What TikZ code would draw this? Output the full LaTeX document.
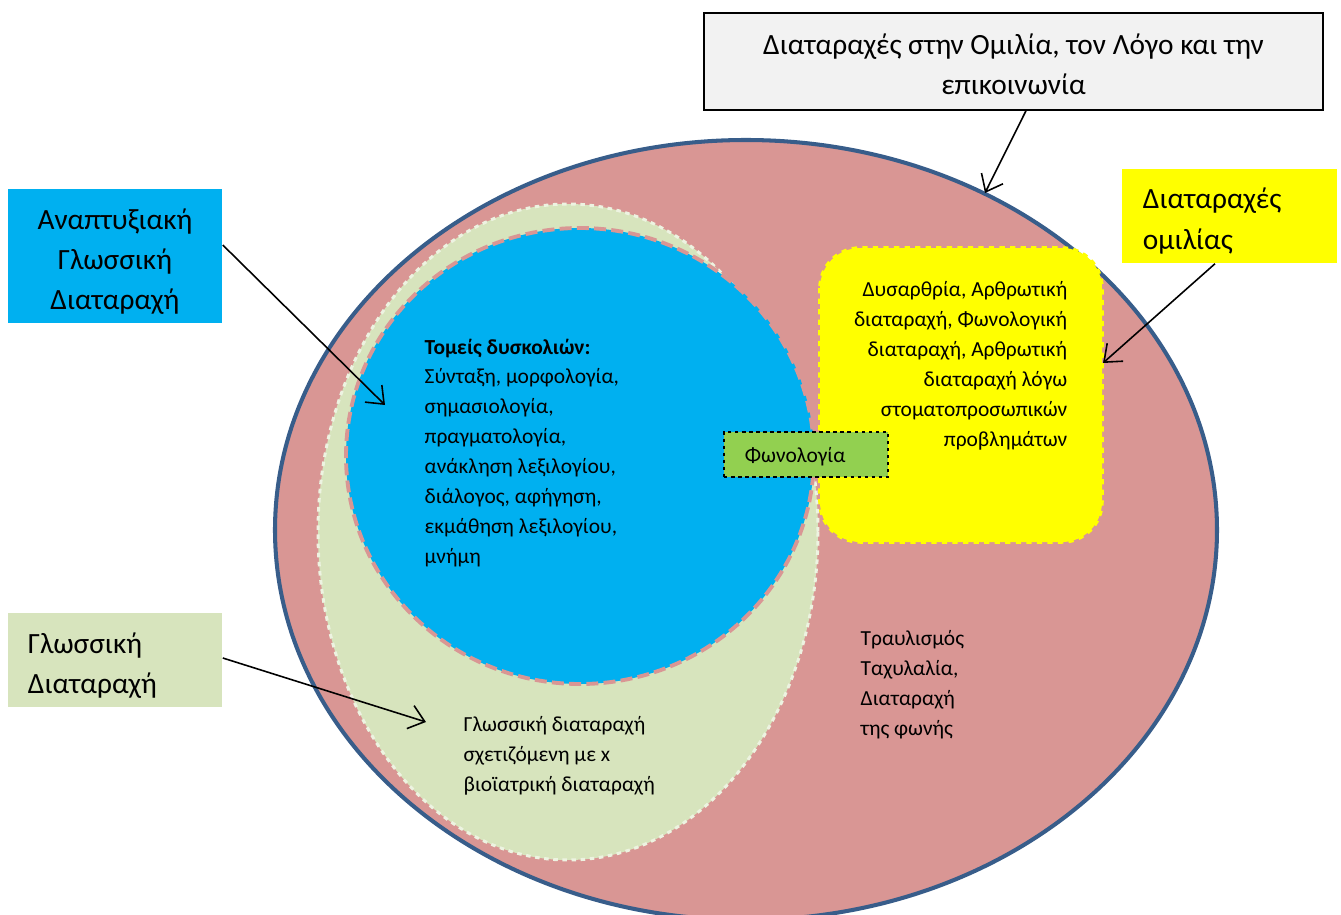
\documentclass[tikz,border=0pt]{standalone}
\usepackage{fontspec}
\setmainfont{Carlito}
\usetikzlibrary{arrows.meta,positioning}
\definecolor{outerpink}{HTML}{D99694}
\definecolor{outerblue}{HTML}{385D8A}
\definecolor{langgreen}{HTML}{D7E4BD}
\definecolor{devblue}{HTML}{00B0F0}
\definecolor{phongreen}{HTML}{92D050}
\definecolor{boxgrey}{HTML}{F2F2F2}
\definecolor{speechyellow}{HTML}{FFFF00}

\begin{document}
\begin{tikzpicture}[x=0.01cm,y=-0.01cm,>={Straight Barb[length=1.5mm,width=2.4mm]},
  biglbl/.style={inner sep=0pt, font=\fontsize{8.35}{11.4}\selectfont},
  smalltxt/.style={inner sep=0pt, font=\fontsize{6.1}{8.5}\selectfont},
  conn/.style={->, line width=0.45pt}]
  \useasboundingbox (0,0) rectangle (1341,915);
  \clip (0,0) rectangle (1341,915);

  % nested regions
  \draw[outerblue, line width=1.15pt, fill=outerpink] (746,530) ellipse [x radius=471, y radius=390];
  \draw[draw=white!55!langgreen, fill=langgreen, line width=0.85pt, dash pattern=on 1.3pt off 1.3pt]
    (568,532) ellipse [x radius=250, y radius=328];
  \draw[draw=outerpink, fill=devblue, line width=1.1pt, dash pattern=on 3.4pt off 1.5pt]
    (580,456) ellipse [x radius=234, y radius=228];
  \draw[draw=speechyellow, fill=speechyellow, line width=1pt, dash pattern=on 1.5pt off 1.5pt, rounded corners=0.4cm]
    (820,248) rectangle (1102,542);

  % texts inside the regions
  \node[smalltxt, anchor=north west, align=left] (devtxt) at (424,338)
    {\textbf{Τομείς δυσκολιών:}\\Σύνταξη, μορφολογία,\\σημασιολογία,\\πραγματολογία,\\ανάκληση λεξιλογίου,\\διάλογος, αφήγηση,\\εκμάθηση λεξιλογίου,\\μνήμη};
  \node[smalltxt, anchor=north east, align=right] (speechtxt) at (1068,281)
    {Δυσαρθρία, Αρθρωτική\\διαταραχή, Φωνολογική\\διαταραχή, Αρθρωτική\\διαταραχή λόγω\\στοματοπροσωπικών\\προβλημάτων};
  \node[smalltxt, anchor=north west, align=left] (langtxt) at (463,716)
    {Γλωσσική διαταραχή\\σχετιζόμενη με x\\βιοϊατρική διαταραχή};
  \node[smalltxt, anchor=north west, align=left] (fluencytxt) at (860,630)
    {Τραυλισμός\\Ταχυλαλία,\\Διαταραχή\\της φωνής};
  \node[draw=black, fill=phongreen, dash pattern=on 1pt off 1pt, line width=0.4pt,
    minimum width=1.64cm, minimum height=0.45cm] (phon) at (806,454.5) {};
  \node[smalltxt, anchor=west] (phontxt) at ([xshift=0.21cm,yshift=-0.02cm]phon.west) {Φωνολογία};

  % outside labels
  \node[draw=black, line width=0.4pt, fill=boxgrey, minimum width=6.19cm, minimum height=0.97cm]
    (toplbl) at (1013.5,61.5) {};
  \node[biglbl, align=center] (toptxt) at ([yshift=-0.025cm]toplbl) {Διαταραχές στην Ομιλία, τον Λόγο και την\\επικοινωνία};
  \node[fill=devblue, minimum width=2.14cm, minimum height=1.34cm] (devlbl) at (115,256) {};
  \node[biglbl, align=center] (devlbltxt) at ([yshift=-0.055cm]devlbl) {Αναπτυξιακή\\Γλωσσική\\Διαταραχή};
  \node[fill=speechyellow, minimum width=2.15cm, minimum height=0.94cm] (speechlbl) at (1229.5,216) {};
  \node[biglbl, align=left, anchor=west] (speechlbltxt) at ([xshift=0.21cm,yshift=-0.05cm]speechlbl.west) {Διαταραχές\\ομιλίας};
  \node[fill=langgreen, minimum width=2.14cm, minimum height=0.94cm] (langlbl) at (115,660) {};
  \node[biglbl, align=left, anchor=west] (langlbltxt) at ([xshift=0.2cm,yshift=-0.055cm]langlbl.west) {Γλωσσική\\Διαταραχή};

  % arrow ends
  \coordinate (topend) at (985,193);
  \coordinate (devend) at (385,405);
  \coordinate (speechend) at (1103,363);
  \coordinate (langend) at (426,722);

  \draw[conn] ([xshift=0.125cm]toplbl.south) -- (topend);
  \draw[conn] ([yshift=0.11cm]devlbl.east) -- (devend);
  \draw[conn] ([xshift=-0.145cm]speechlbl.south) -- (speechend);
  \draw[conn] ([yshift=0.02cm]langlbl.east) -- (langend);
\end{tikzpicture}
\end{document}
